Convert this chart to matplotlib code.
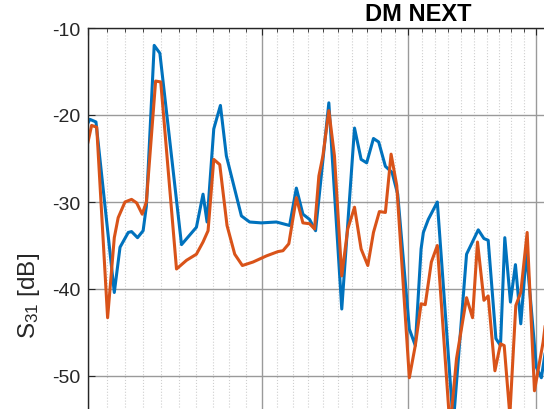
import numpy as np
import matplotlib
matplotlib.use('Agg')
import matplotlib.pyplot as plt
from matplotlib.ticker import FixedLocator, NullFormatter

plt.rcParams['font.family'] = ['Liberation Sans', 'DejaVu Sans']
plt.rcParams['mathtext.default'] = 'regular'
plt.rcParams['axes.unicode_minus'] = False

# Частота, ГГц (ось X), и S31, дБ
f_blue = [5.000, 5.010, 5.042, 5.140, 5.171, 5.216, 5.234, 5.267, 5.298, 5.316,
          5.360, 5.392, 5.516, 5.603, 5.642, 5.666, 5.706, 5.746, 5.782, 5.874,
          5.925, 5.998, 6.094, 6.179, 6.223, 6.266, 6.310, 6.350, 6.439, 6.527,
          6.615, 6.661, 6.700, 6.748, 6.785, 6.833, 6.881, 6.922, 7.007, 7.051,
          7.094, 7.111, 7.148, 7.216, 7.338, 7.441, 7.533, 7.578, 7.612, 7.674,
          7.711, 7.746, 7.792, 7.833, 7.877, 7.924, 8.007, 8.049, 8.120]
s_blue = [-20.9, -20.5, -20.8, -40.4, -35.2, -33.5, -33.4, -34.1, -33.3, -30.5,
          -12.0, -12.9, -34.9, -32.9, -29.1, -32.3, -21.6, -18.9, -24.7, -31.6,
          -32.3, -32.4, -32.3, -32.7, -28.4, -31.4, -32.0, -33.3, -18.6, -42.3,
          -21.5, -25.1, -25.5, -22.7, -23.1, -25.9, -26.6, -29.1, -44.6, -46.5,
          -35.4, -33.5, -32.0, -30.0, -55.5, -36.0, -33.2, -34.2, -34.4, -45.7,
          -46.5, -34.1, -41.5, -37.2, -44.0, -35.8, -49.0, -50.2, -44.0]

f_orange = [5.000, 5.019, 5.046, 5.104, 5.140, 5.161, 5.198, 5.234, 5.262, 5.293,
            5.316, 5.368, 5.397, 5.487, 5.545, 5.603, 5.642, 5.672, 5.706, 5.742,
            5.786, 5.833, 5.880, 5.946, 6.030, 6.104, 6.136, 6.174, 6.223, 6.266,
            6.310, 6.343, 6.372, 6.399, 6.439, 6.477, 6.527, 6.568, 6.615, 6.661,
            6.708, 6.748, 6.790, 6.833, 6.874, 6.915, 7.007, 7.051, 7.094, 7.125,
            7.171, 7.216, 7.313, 7.363, 7.441, 7.488, 7.527, 7.578, 7.612, 7.666,
            7.711, 7.741, 7.787, 7.836, 7.877, 7.930, 7.991, 8.064, 8.120]
s_orange = [-23.1, -21.2, -21.4, -43.3, -34.1, -31.8, -30.0, -29.7, -30.1, -31.4,
            -30.0, -16.1, -16.2, -37.7, -36.7, -36.0, -34.6, -33.3, -25.1, -25.7,
            -32.7, -36.0, -37.3, -36.9, -36.2, -35.7, -35.6, -34.8, -29.5, -32.4,
            -32.5, -33.1, -27.0, -24.7, -19.5, -24.7, -38.5, -33.1, -30.6, -35.4,
            -37.3, -33.5, -31.1, -31.2, -24.5, -28.1, -50.2, -46.5, -41.7, -41.8,
            -36.9, -35.0, -56.0, -48.0, -41.0, -43.3, -34.6, -41.3, -40.8, -49.4,
            -46.3, -46.5, -54.5, -41.9, -40.4, -33.5, -51.7, -46.1, -40.0]

major_x = [5, 6, 7, 8, 9, 10]
minor_x = [v / 10 for v in range(50, 101) if v % 10 != 0]
y_ticks = [-50, -40, -30, -20, -10]

fig = plt.figure(figsize=(5.44, 4.10), dpi=100)
# оси шире и выше картинки: на исходнике видна только левая верхняя часть
ax = fig.add_axes([88 / 544, (410 - 551) / 410, 660 / 544, 522 / 410])

ax.plot(f_blue, s_blue, color='#0072BD', lw=2.2)
ax.plot(f_orange, s_orange, color='#D95319', lw=2.2)

ax.set_xscale('log')
ax.set_xlim(5, 10)
ax.set_ylim(-70, -10)
ax.xaxis.set_major_locator(FixedLocator(major_x))
ax.xaxis.set_minor_locator(FixedLocator(minor_x))
ax.xaxis.set_major_formatter(NullFormatter())
ax.xaxis.set_minor_formatter(NullFormatter())
ax.set_yticks(y_ticks)

ax.grid(which='major', color='#9a9a9a', lw=1.0, ls='-')
ax.grid(which='minor', axis='x', color='#cfcfcf', lw=0.8, ls=':')
ax.set_axisbelow(True)

ax.tick_params(which='both', direction='in', top=True, right=True,
               labelsize=14, pad=5.5, colors='#262626')
ax.tick_params(which='major', length=5, width=0.8)
ax.tick_params(which='minor', length=3, width=0.6)
for sp in ax.spines.values():
    sp.set_linewidth(1.0)
    sp.set_color('#262626')

ax.set_title('DM NEXT', fontweight='bold', fontsize=17, pad=6, color='#000000')
ax.set_ylabel('S$_{31}$ [dB]', fontsize=17.5, color='#262626')
ax.yaxis.set_label_coords(-0.07, 0.4885)

fig.savefig('out.png', dpi=100)
